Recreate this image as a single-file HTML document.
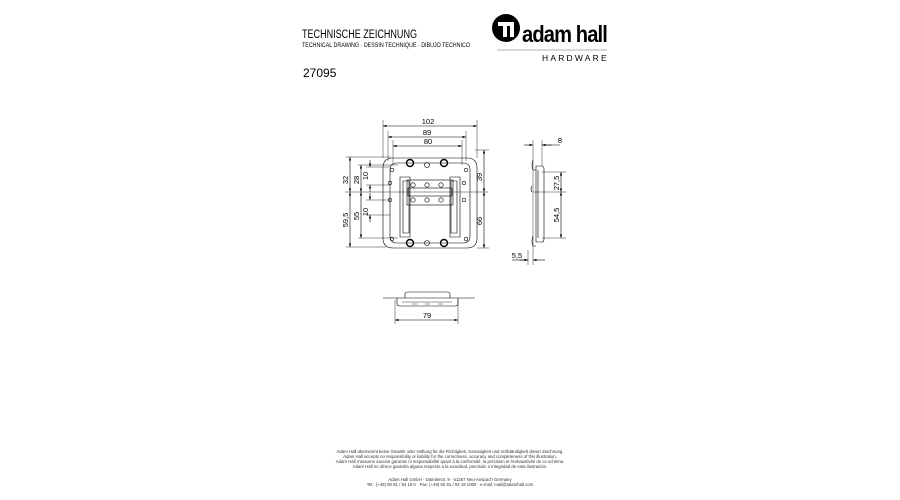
<!DOCTYPE html>
<html><head><meta charset="utf-8"><style>
body{margin:0;background:#fff;width:900px;height:500px;overflow:hidden;font-family:"Liberation Sans",Arial,sans-serif}
svg{position:absolute;left:0;top:0}
</style></head><body>
<svg width="900" height="500" viewBox="0 0 900 500" font-family="Liberation Sans, Arial, sans-serif">
<defs><marker id="a" markerWidth="6" markerHeight="4" refX="6" refY="2" orient="auto-start-reverse"><path d="M0,0L6,2L0,4z" fill="#000"/></marker></defs>
<!-- header -->
<text x="302" y="38" font-size="11.5" textLength="115" lengthAdjust="spacingAndGlyphs">TECHNISCHE ZEICHNUNG</text>
<text x="302" y="47" font-size="6.3" textLength="168" lengthAdjust="spacingAndGlyphs">TECHNICAL DRAWING · DESSIN TECHNIQUE · DIBUJO TECHNICO</text>
<text x="303" y="77" font-size="12">27095</text>
<circle cx="506" cy="28" r="14" fill="#000"/>
<path d="M498,22 h16 v15 h-4 v-11 h-3 v11 h-4 v-11 h-5z" fill="#fff"/>
<text x="522" y="42" font-size="23" font-weight="bold" letter-spacing="-1" textLength="85" lengthAdjust="spacingAndGlyphs">adam hall</text>
<line x1="497" y1="50" x2="607" y2="50" stroke="#666" stroke-width="0.6"/>
<text x="542" y="61" font-size="8.5" letter-spacing="2.2">HARDWARE</text>
<g stroke="#000" stroke-width="0.6" fill="none">
<!-- front view plate -->
<path d="M393,158 h74 q10,0 10,10 v70 q0,10 -10,10 h-74 q-10,0 -10,-10 v-70 q0,-10 10,-10z"/>
<path d="M397,163 h66 q7,0 7,7 v66 q0,7 -7,7 h-66 q-7,0 -7,-7 v-66 q0,-7 7,-7z"/>
<path d="M400,177 h10 v60 h-10z M450,177 h10 v60 h-10z"/>
<path d="M403,181 h6 v52 h-6z M451,181 h6 v52 h-6z"/>
<rect x="407" y="180" width="46" height="25"/>
<rect x="408" y="188" width="44" height="8"/>
<circle cx="410" cy="163" r="3.5" stroke-width="1.4"/><circle cx="444" cy="163" r="3.5" stroke-width="1.4"/>
<circle cx="410" cy="243" r="3.5" stroke-width="1.4"/><circle cx="444" cy="243" r="3.5" stroke-width="1.4"/>
<circle cx="427" cy="165" r="2.5"/><circle cx="427" cy="243" r="2.5"/>
<circle cx="392" cy="170" r="1.8"/><circle cx="466" cy="170" r="1.8"/>
<circle cx="390" cy="183" r="1.8"/><circle cx="464" cy="183" r="1.8"/>
<circle cx="390" cy="200" r="1.8"/><circle cx="464" cy="200" r="1.8"/>
<circle cx="392" cy="239" r="1.8"/><circle cx="466" cy="239" r="1.8"/>
<circle cx="413" cy="185" r="2.2"/><circle cx="427" cy="185" r="2.2"/><circle cx="441" cy="185" r="2.2"/>
<circle cx="413" cy="200" r="2.2"/><circle cx="427" cy="200" r="2.2"/><circle cx="441" cy="200" r="2.2"/>
<line x1="345" y1="192" x2="488" y2="192" stroke-width="0.4"/>
<path d="M383,120 v38 M477,120 v38 M388,131 v30 M466,131 v30 M393,140 v25 M462,140 v25" stroke-width="0.4"/>
<path d="M346,157 h45 M358,165 h40 M346,247 h40 M358,238 h40 M475,150 h14 M477,248 h12 M366,167 h24 M366,185 h24 M366,200 h24 M366,215 h24" stroke-width="0.4"/>
</g>
<g stroke="#000" stroke-width="0.6" marker-start="url(#a)" marker-end="url(#a)">
<line x1="383" y1="126" x2="477" y2="126"/>
<line x1="388" y1="137" x2="466" y2="137"/>
<line x1="393" y1="146" x2="462" y2="146"/>
<line x1="350" y1="157" x2="350" y2="192"/>
<line x1="350" y1="192" x2="350" y2="247"/>
<line x1="361" y1="165" x2="361" y2="192"/>
<line x1="361" y1="192" x2="361" y2="238"/>
<line x1="484" y1="150" x2="484" y2="192"/>
<line x1="484" y1="192" x2="484" y2="248"/>
<line x1="561" y1="172" x2="561" y2="192"/>
<line x1="561" y1="192" x2="561" y2="238"/>
<line x1="395" y1="320" x2="458" y2="320"/>
</g>
<g stroke="#000" stroke-width="0.6" fill="none">
<line x1="370" y1="160" x2="370" y2="167" marker-end="url(#a)"/><line x1="370" y1="192" x2="370" y2="185" marker-end="url(#a)"/>
<line x1="370" y1="193" x2="370" y2="200" marker-end="url(#a)"/><line x1="370" y1="222" x2="370" y2="215" marker-end="url(#a)"/>
<path d="M536,166 h6 q2,0 2,3 v70 q0,3 -2,3 h-6z"/>
<path d="M533,160 q-2,6 0,10 h3 M533,236 q-2,6 0,10 h3 M532,186 q-2,3 0,6"/>
<line x1="538" y1="170" x2="538" y2="238"/>
<line x1="533" y1="140" x2="533" y2="265" stroke-width="0.4"/>
<line x1="542" y1="140" x2="542" y2="166" stroke-width="0.4"/>
<path d="M542,172 h24 M533,192 h33 M542,238 h24" stroke-width="0.4"/>
<line x1="524" y1="145" x2="533" y2="145" marker-end="url(#a)"/><line x1="552" y1="145" x2="542" y2="145" marker-end="url(#a)"/>
<line x1="542" y1="145" x2="560" y2="145"/>
<line x1="512" y1="260" x2="528" y2="260"/><line x1="520" y1="260" x2="528" y2="260" marker-end="url(#a)"/>
<line x1="528" y1="250" x2="528" y2="265" stroke-width="0.4"/>
<line x1="545" y1="260" x2="533" y2="260" marker-end="url(#a)"/>
<line x1="383" y1="298" x2="475" y2="298"/>
<path d="M397,298 v6 q0,2 3,2 h55 q3,0 3,-2 v-6"/>
<path d="M405,298 v-4 q0,-2 3,-2 h39 q3,0 3,2 v4"/>
<path d="M402,302 h50 M412,304 h5 M425,304 h5 M438,304 h5" stroke-width="0.4"/>
<path d="M395,300 v24 M458,300 v24" stroke-width="0.4"/>
</g>
<g font-size="7.5" fill="#000" text-anchor="middle">
<text x="428" y="124">102</text><text x="427" y="135">89</text><text x="428" y="144">80</text>
<text transform="translate(348,180) rotate(-90)">32</text>
<text transform="translate(348,220) rotate(-90)">59,5</text>
<text transform="translate(359,180) rotate(-90)">28</text>
<text transform="translate(359,216) rotate(-90)">55</text>
<text transform="translate(368,176) rotate(-90)">10</text>
<text transform="translate(368,212) rotate(-90)">10</text>
<text transform="translate(482,177) rotate(-90)">39</text>
<text transform="translate(482,221) rotate(-90)">66</text>
<text x="560" y="143">8</text>
<text transform="translate(559,183) rotate(-90)">27,5</text>
<text transform="translate(559,215) rotate(-90)">54,5</text>
<text x="517" y="258">5,5</text>
<text x="427" y="318">79</text>
</g>
<g font-size="4.3" fill="#333" text-anchor="middle">
<text x="450" y="453">Adam Hall übernimmt keine Gewähr oder Haftung für die Richtigkeit, Genauigkeit und Vollständigkeit dieser Zeichnung.</text>
<text x="450" y="458">Adam Hall accepts no responsibility or liability for the correctness, accuracy and completeness of this illustration.</text>
<text x="450" y="463">Adam Hall n'assume aucune garantie ni responsabilité quant à la conformité, la précision et l'exhaustivité de ce schéma.</text>
<text x="450" y="468">Adam Hall no ofrece garantía alguna respecto a la exactitud, precisión o integridad de esta ilustración.</text>
<text x="450" y="481">Adam Hall GmbH · Daimlerstr. 9 · 61267 Neu-Anspach Germany</text>
<text x="450" y="486">Tel.: (+49) 60 81 / 94 19 0 · Fax: (+49) 60 81 / 94 19 1000 · e-mail: mail@adamhall.com</text>
</g>
</svg>
</body></html>
